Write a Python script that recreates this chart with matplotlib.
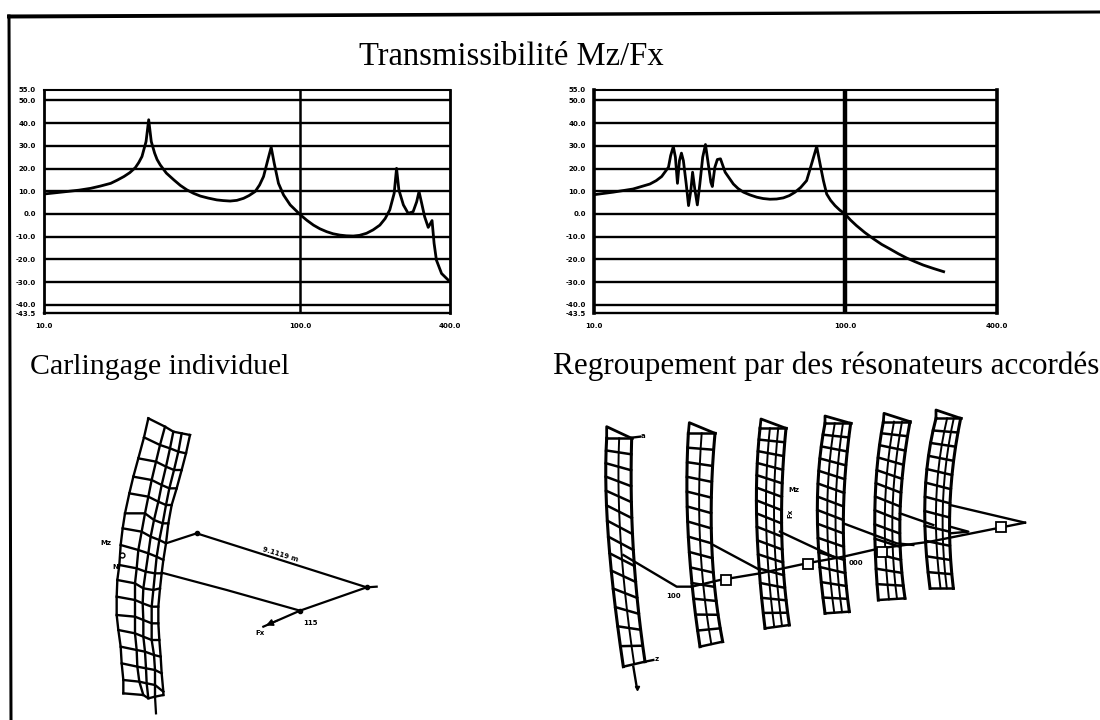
import numpy as np
import matplotlib
matplotlib.use("Agg")
import matplotlib.pyplot as plt
from matplotlib.patches import Polygon

# ---- transmissibility curves (Hz, dB) ----
left_freq = [10, 11, 12.3, 13.7, 15.2, 16.6, 18.2, 19.3, 20.5, 21.6, 22.7, 23.4, 24.1, 25.0, 25.6, 26.2, 27.0, 27.6, 28.4, 30.0, 32.1, 34.0, 36.1, 38.3, 40.7,
             43.7, 47.2, 50, 53.2, 56.5, 60.0, 63, 66.6, 69.3, 71.8, 74.6, 76.9, 79.0, 82.1, 85.9, 91.2, 100, 106, 112.4, 119, 126.6,
             134, 142.6, 151, 160.7, 170, 181, 192, 204, 214, 223,
             232, 237, 242, 252, 263, 275, 284, 290, 297, 305, 315, 326, 332, 339, 355, 377]
left_db = [8.8, 9.3, 9.9, 10.5, 11.3, 12.3, 13.5, 14.9, 16.5, 18.2, 20.4, 22.6, 25.3, 31.9, 41.5, 31.9, 26.8, 24, 21.6, 18, 15, 12.6, 10.6, 9.1, 7.9,
           7, 6.2, 5.9, 5.7, 6, 6.9, 8.1, 9.9, 12.8, 16.5, 23.8, 29.4, 22.4, 13.5, 8.4, 4, -0.4, -2.8, -4.9, -6.5, -7.8,
           -8.7, -9.3, -9.6, -9.7, -9.4, -8.5, -7, -4.9, -2, 1.8,
           9.1, 20.1, 10.6, 4, 0.3, 1, 5.4, 9.9, 4.7, -1.2, -5.9, -2.9, -12.9, -20.3, -26.2, -29.1]
right_freq = [10, 11.9, 14.3, 16.7, 17.7, 18.6, 19.8, 20.2, 20.7, 21.1, 21.5, 21.9, 22.3, 22.7, 23.3, 23.8, 24.3, 24.7,
              25.2, 25.8, 26.4, 27.1, 27.8, 28.4, 29.2, 29.6, 30.3, 31.0, 31.9, 33.3, 35.9, 37.5, 39.4, 41.8, 44.5, 47.2, 50.2, 53.4, 56.8,
              60, 63.2, 66.6, 70.3, 73.6, 77.1, 80.0, 82.0, 84.5, 87.6, 91.2, 95.3, 100, 105, 111, 120, 130, 140, 151, 163, 176, 190, 205, 225, 247]
right_db = [8.5, 9.6, 11, 13.2, 14.7, 16.5, 20.6, 25.7, 29.7, 25, 13.5, 23.5, 26.8, 23.5, 13.2, 3.7, 10.3, 18.4,
            11, 4, 13.2, 25, 30.6, 23.5, 14, 12.1, 20.6, 24, 24.3, 18.4, 13.2, 11.2, 9.6, 8.4, 7.4, 6.8, 6.5, 6.6, 7.1,
            8.1, 9.6, 11.7, 14.7, 22.1, 29.7, 20.6, 14.7, 8.8, 6, 3.7, 1.7, 0, -2.6, -5.1, -8.2, -11, -13.4, -15.4, -17.5, -19.4, -21, -22.5, -24, -25.4]
grid_db = [50, 40, 30, 20, 10, 0, -10, -20, -30, -40]
grid_labels = ["50.0", "40.0", "30.0", "20.0", "10.0", "0.0", "-10.0", "-20.0", "-30.0", "-40.0"]
freq_labels = ["10.0", "100.0", "400.0"]

title = "Transmissibilité Mz/Fx"
caption_left = "Carlingage individuel"
caption_right = "Regroupement par des résonateurs accordés"

W, H = 1100, 720
fig = plt.figure(figsize=(W / 100, H / 100), dpi=100, facecolor="white")
plt.rcParams["font.family"] = ["Liberation Serif", "DejaVu Serif"]


def box(x0, y0, x1, y1, **kw):
    return fig.add_axes([x0 / W, 1 - y1 / H, (x1 - x0) / W, (y1 - y0) / H], **kw)


# page overlay in pixel units
page = box(0, 0, W, H)
page.set_xlim(0, W)
page.set_ylim(H, 0)
page.axis("off")
page.add_patch(Polygon([(7, 14.5), (1100, 10.5), (1100, 13.5), (7, 18.5)], color="black", lw=0))
page.add_patch(Polygon([(7.5, 14.5), (10.5, 14.5), (12.5, 720), (9.5, 720)], color="black", lw=0))
page.text(511, 57, title, ha="center", va="center", fontsize=23.5, family="Liberation Serif")
page.text(30, 367, caption_left, ha="left", va="center", fontsize=21.5, family="Liberation Serif")
page.text(553, 366, caption_right, ha="left", va="center", fontsize=22.4, family="Liberation Serif")


def chart(rect, xs, ys, vlw, xmax, slw):
    ax = box(*rect)
    ax.set_xscale("log")
    ax.set_xlim(10, xmax)
    ax.set_ylim(-43.6, 54.6)
    for g in grid_db:
        ax.axhline(g, color="black", lw=1.7)
    ax.axvline(100, color="black", lw=vlw)
    ax.plot(xs, ys, color="black", lw=2.0, solid_joinstyle="round")
    ax.set_yticks(grid_db + [54.6, -43.6])
    ax.set_yticklabels(grid_labels + ["55.0", "-43.5"], fontsize=5, fontweight="bold", family="DejaVu Sans")
    ax.set_xticks([10, 100, xmax])
    ax.set_xticklabels(freq_labels, fontsize=5, fontweight="bold", family="DejaVu Sans")
    ax.minorticks_off()
    ax.tick_params(axis="y", length=0, pad=6)
    ax.tick_params(axis="x", length=0, pad=7)
    ax.spines["left"].set_linewidth(slw)
    ax.spines["right"].set_linewidth(slw)
    ax.spines["top"].set_linewidth(1.5)
    ax.spines["bottom"].set_linewidth(1.7)
    return ax


chart((44, 90, 450, 313), left_freq, left_db, 1.8, 383, 2.0)
chart((594, 90, 997, 313), right_freq, right_db, 3.2, 403, 2.6)

# ---- left structural diagram (crop units) ----
mesh_cols = [
    [(205,115),(192,172),(175,235),(160,290),(148,340),(135,400),(128,445),(122,495),(118,555),(112,600),(110,650),(110,705),(115,750),(122,800),(125,850),(130,900),(130,940)],
    [(255,140),(240,195),(228,245),(215,300),(205,350),(195,400),(185,455),(175,510),(170,565),(165,610),(165,660),(165,710),(165,760),(170,810),(172,860),(178,905),(190,945)],
    [(280,155),(270,205),(258,260),(245,315),(235,365),(222,420),(212,470),(205,520),(197,575),(190,625),(188,670),(190,720),(190,770),(195,815),(198,865),(200,910),(205,955)],
    [(305,160),(295,215),(282,270),(268,325),(258,375),(248,430),(238,480),(230,530),(225,580),(220,630),(215,680),(215,730),(215,780),(222,825),(225,870),(225,915),(225,950)],
    [(330,165),(318,220),(305,270),(290,325),(275,375),(265,430),(258,490),(250,540),(245,580),(240,625),(235,680),(235,730),(238,780),(242,830),(245,880),(250,935),(250,945)],
]
left_links = [
    [(258,490),(350,460),(860,622),(890,620)],
    [(245,578),(440,630),(660,692),(860,622)],
    [(660,692),(550,740)],
    [(225,950),(228,1000)],
]
d1 = box(80, 380, 400, 720)
d1.set_xlim(0, 960)
d1.set_ylim(1020, 0)
d1.axis("off")
for col in mesh_cols:
    a = np.array(col)
    d1.plot(a[:, 0], a[:, 1], color="black", lw=1.7)
for r in range(len(mesh_cols[0])):
    a = np.array([c[r] for c in mesh_cols])
    d1.plot(a[:, 0], a[:, 1], color="black", lw=1.7)
for l in left_links:
    a = np.array(l)
    d1.plot(a[:, 0], a[:, 1], color="black", lw=1.6)
d1.plot([660, 860, 350], [692, 622, 460], "o", color="black", ms=3)
d1.plot([125], [525], "o", mfc="white", mec="black", ms=3.5)
d1.annotate("", xy=(550, 740), xytext=(600, 718), arrowprops=dict(arrowstyle="-|>", color="black", lw=1.2))
small = dict(fontsize=5, fontweight="bold", family="DejaVu Sans", ha="center", va="center")
d1.text(600, 523, "9.1119 m", rotation=-17, **small)
d1.text(78, 488, "Mz", **small)
d1.text(105, 562, "N", **small)
d1.text(540, 760, "Fx", **small)
d1.text(690, 728, "115", **small)

# ---- right structural diagram (crop units) ----
# left edge (top, mid, bottom), right edge (top, mid, bottom), number of rows, column fractions
strips = [
    ((80,205),(85,500),(130,890), (155,205),(160,540),(195,875), 14, (0, 0.5, 1)),
    ((325,190),(325,500),(360,830), (405,190),(395,520),(428,815), 14, (0, 0.5, 1)),
    ((540,175),(530,450),(555,775), (618,175),(605,480),(628,765), 15, (0, 0.38, 0.7, 1)),
    ((735,160),(712,420),(735,730), (812,160),(790,450),(808,725), 14, (0, 0.38, 0.7, 1)),
    ((910,155),(885,400),(895,690), (990,155),(960,430),(975,685), 13, (0, 0.4, 0.7, 1)),
    ((1068,145),(1035,380),(1050,655), (1142,145),(1110,400),(1120,655), 12, (0, 0.45, 0.72, 1)),
]
strip_peaks = [(80,170), (328,158), (543,147), (735,138), (912,130), (1068,120)]
right_links = [
    [(130,555),(290,650),(335,650)],
    [(400,525),(540,600)],
    [(600,485),(760,560)],
    [(790,460),(950,520),(1000,525)],
    [(960,430),(1060,465)],
    [(1110,405),(1335,458)],
    [(335,650),(420,630),(540,610),(680,580),(790,560),(900,535),(1050,515),(1335,458)],
    [(1110,490),(1165,485),(1110,470)],
    [(155,203),(180,200)],
    [(195,875),(220,870)],
    [(160,890),(170,950)],
]
squares = [(437,630), (683,582), (905,545), (1262,472)]
d2 = box(580, 370, 1040, 700)
d2.set_xlim(0, 1380)
d2.set_ylim(990, 0)
d2.axis("off")


def bend(t, p0, p1, p2):
    return p0 * (1 - t) * (1 - 2 * t) + p1 * 4 * t * (1 - t) + p2 * t * (2 * t - 1)


for (lt, lm, lb, rt, rm, rb, n, fracs), peak in zip(strips, strip_peaks):
    t = np.linspace(0, 1, n + 1)
    lx, ly = bend(t, lt[0], lm[0], lb[0]), bend(t, lt[1], lm[1], lb[1])
    rx, ry = bend(t, rt[0], rm[0], rb[0]), bend(t, rt[1], rm[1], rb[1])
    for frac in fracs:
        d2.plot(lx + (rx - lx) * frac, ly + (ry - ly) * frac, color="black",
                lw=2.2 if frac in (0, 1) else 1.4)
    for i in range(n + 1):
        d2.plot([lx[i], rx[i]], [ly[i], ry[i]], color="black", lw=1.8)
    d2.plot([lx[0], peak[0], rx[0]], [ly[0], peak[1], ry[0]], color="black", lw=2.0)
for l in right_links:
    a = np.array(l)
    d2.plot(a[:, 0], a[:, 1], color="black", lw=1.7)
for (x, y) in squares:
    d2.plot([x], [y], "s", mfc="white", mec="black", ms=6.5, mew=1.3)
d2.text(188, 198, "a", **small)
d2.text(230, 868, "z", **small)
d2.text(280, 677, "100", **small)
d2.text(827, 580, "000", **small)
d2.text(642, 360, "Mz", **small)
d2.text(632, 430, "Fx", rotation=90, **small)
d2.plot([170], [955], "v", color="black", ms=3)

fig.savefig("out.png", dpi=100)
